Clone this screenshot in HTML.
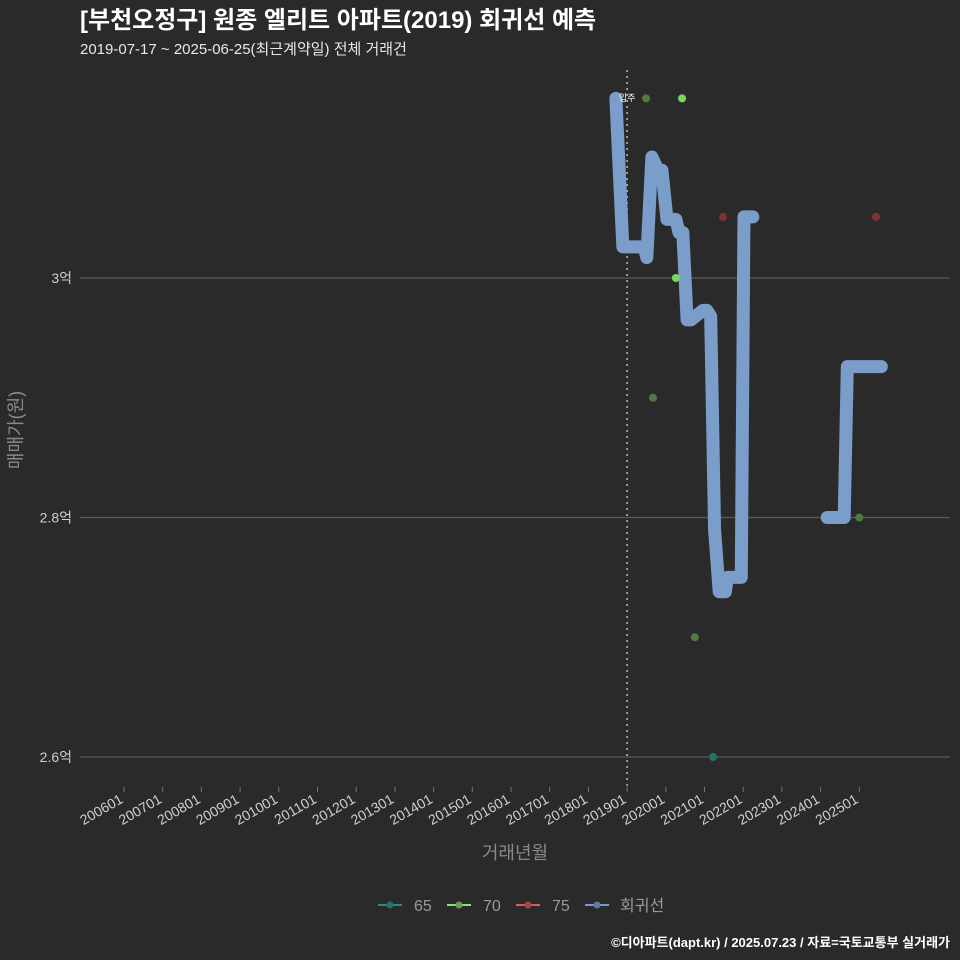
<!DOCTYPE html>
<html><head><meta charset="utf-8"><style>
body{margin:0;background:#2a2a2b;}
svg{display:block;font-family:"Liberation Sans","Noto Sans CJK KR",sans-serif;}
</style></head><body>
<svg id="chart" width="960" height="960" viewBox="0 0 960 960">
<rect width="960" height="960" fill="#2a2a2b"/>
<text x="80" y="28" font-size="24" font-weight="bold" fill="#ffffff">[부천오정구] 원종 엘리트 아파트(2019) 회귀선 예측</text>
<text x="80" y="54" font-size="15" fill="#e8e8e8">2019-07-17 ~ 2025-06-25(최근계약일) 전체 거래건</text>
<g id="grid"></g>
<g id="xticks"></g>
<g id="marks"></g>
<text x="515" y="859" font-size="18" fill="#8a8a8a" text-anchor="middle">거래년월</text>
<text transform="translate(22,430) rotate(-90)" font-size="18" fill="#8a8a8a" text-anchor="middle">매매가(원)</text>
<g font-size="16" fill="#9a9a9a">
<g><line x1="378" y1="905" x2="402" y2="905" stroke="#2a8a86" stroke-width="2"/><circle cx="390" cy="905" r="3.5" fill="#2a6e6a"/><text x="414" y="911">65</text></g>
<g><line x1="447" y1="905" x2="471" y2="905" stroke="#8ee070" stroke-width="2"/><circle cx="459" cy="905" r="3.5" fill="#6aa050"/><text x="483" y="911">70</text></g>
<g><line x1="516" y1="905" x2="540" y2="905" stroke="#e05a5a" stroke-width="2"/><circle cx="528" cy="905" r="3.5" fill="#a04848"/><text x="552" y="911">75</text></g>
<g><line x1="585" y1="905" x2="609" y2="905" stroke="#7b9dc9" stroke-width="2"/><circle cx="597" cy="905" r="3.5" fill="#5d7aa0"/><text x="620" y="911">회귀선</text></g>
</g>
<text x="950" y="947" font-size="13" font-weight="bold" fill="#ffffff" text-anchor="end">©디아파트(dapt.kr) / 2025.07.23 / 자료=국토교통부 실거래가</text>
</svg>
<script>
const xTickLabels=["200601","200701","200801","200901","201001","201101","201201","201301","201401","201501","201601","201701","201801","201901","202001","202101","202201","202301","202401","202501"];
const yTickValues=[2.6,2.8,3.0];
const yTickLabels=["2.6억","2.8억","3억"];
const lineX1=[2018.71,2018.89,2019.44,2019.51,2019.64,2019.80,2019.90,2020.03,2020.26,2020.34,2020.44,2020.55,2020.65,2020.96,2021.06,2021.16,2021.26,2021.38,2021.54,2021.59,2021.95,2022.02,2022.25];
const lineV1=[3.150,3.026,3.026,3.017,3.101,3.090,3.090,3.049,3.049,3.038,3.038,2.965,2.965,2.973,2.973,2.968,2.790,2.738,2.738,2.750,2.750,3.051,3.051];
const lineX2=[2024.17,2024.61,2024.69,2025.57];
const lineV2=[2.800,2.800,2.926,2.926];
const ptX=[2019.49,2020.42,2021.48,2025.43,2020.26,2019.67,2020.75,2021.22,2025.0];
const ptV=[3.150,3.150,3.051,3.051,3.0,2.9,2.7,2.6,2.8];
const ptGroup=["70b","70","75","75","70","70b","70b","65","70b"];
const colors={"65":"#2a6e6a","70":"#7bd65a","70b":"#4f7a40","75":"#7a3636"};
const NS="http://www.w3.org/2000/svg";
function xs(y){return 124+(y-2006)*38.7;}
function ys(v){return 278+(3-v)*1197.5;}
function mk(t,a,p){const e=document.createElementNS(NS,t);for(const k in a)e.setAttribute(k,a[k]);p.appendChild(e);return e;}
const grid=document.getElementById('grid'),xt=document.getElementById('xticks'),marks=document.getElementById('marks');
yTickValues.forEach((v,i)=>{
 const l=mk('line',{x1:80,x2:950,y1:ys(v),y2:ys(v),stroke:'#5a5a5a','stroke-width':1.2},grid);
 
 
 const t=mk('text',{x:72,y:ys(v)+5,'font-size':14,fill:'#cfcfcf','text-anchor':'end'},grid);
 t.textContent=yTickLabels[i];
 
 
});
xTickLabels.forEach((s,i)=>{
 const x=xs(2006+i);
 const tk=mk('line',{x1:x,x2:x,y1:787,y2:792,stroke:'#777'},xt);
 
 
 const t=mk('text',{x:x,y:802,'font-size':14,fill:'#cfcfcf','text-anchor':'end',transform:`rotate(-30 ${x} 802)`},xt);
 t.textContent=s;
 
 
});
const vx=xs(2019);
const vl=mk('line',{x1:vx,x2:vx,y1:70,y2:787,stroke:'#bbbbbb','stroke-width':1.5,'stroke-dasharray':'2,4'},marks);


[[lineX1,lineV1],[lineX2,lineV2]].forEach(([X,V])=>{
 const p=mk('polyline',{points:X.map((x,i)=>xs(x)+','+ys(V[i])).join(' '),fill:'none',stroke:'#7b9dc9','stroke-width':13,'stroke-linejoin':'round','stroke-linecap':'round'},marks);
 
 
});
ptX.forEach((x,i)=>{
 const c=mk('circle',{cx:xs(x),cy:ys(ptV[i]),r:4,fill:colors[ptGroup[i]]},marks);
 
 
});
const a=mk('text',{x:vx,y:101,'font-size':9,fill:'#ffffff','text-anchor':'middle'},marks);
a.textContent='입주';


</script>
</body></html>
